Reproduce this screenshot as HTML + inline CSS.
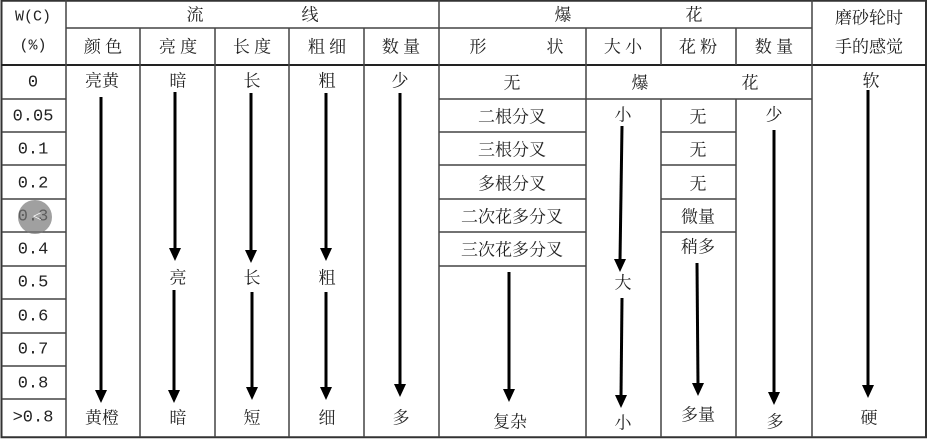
<!DOCTYPE html>
<html><head><meta charset="utf-8"><style>
html,body{margin:0;padding:0;background:#fff;}
svg{display:block;}
text{font-family:"Liberation Serif","Noto Serif CJK SC",serif;font-size:17px;fill:#222;text-anchor:middle;dominant-baseline:central;}
.n{font-family:"Liberation Mono","Liberation Serif",monospace;font-size:17px;}
</style></head><body>
<svg width="927" height="441" viewBox="0 0 927 441" xmlns="http://www.w3.org/2000/svg">
<g stroke="#444" stroke-width="1.5" fill="none">
<rect x="1.5" y="0.75" width="924.5" height="436.5" stroke="#333" stroke-width="2"/>
<line x1="66" y1="28" x2="812" y2="28"/>
<line x1="1" y1="65" x2="926" y2="65" stroke="#222" stroke-width="2"/>
<path d="M2,99H66M2,132H66M2,165H66M2,199H66M2,232H66M2,266H66M2,299H66M2,333H66M2,366H66M2,399H66"/>
<path d="M439,99H812M439,132H586M439,165H586M439,199H586M439,232H586M439,266H586"/>
<path d="M661,132H736M661,165H736M661,199H736M661,232H736"/>
<path d="M66,0V437M439,0V437M812,0V437"/>
<path d="M140,28V437M215,28V437M289,28V437M364,28V437M586,28V437"/>
<path d="M661,28V65M736,28V65M661,99V437M736,99V437"/>
</g>
<g stroke="#000" stroke-width="3">
<line x1="101" y1="97" x2="101" y2="392"/><path d="M95,390H107L101,403Z" fill="#000" stroke="none"/>
<line x1="175" y1="92" x2="175" y2="250"/><path d="M169,248H181L175,261Z" fill="#000" stroke="none"/>
<line x1="174" y1="290" x2="174" y2="392"/><path d="M168,390H180L174,403Z" fill="#000" stroke="none"/>
<line x1="251" y1="93" x2="251" y2="252"/><path d="M245,250H257L251,263Z" fill="#000" stroke="none"/>
<line x1="252" y1="292" x2="252" y2="389"/><path d="M246,387H258L252,400Z" fill="#000" stroke="none"/>
<line x1="326" y1="93" x2="326" y2="250"/><path d="M320,248H332L326,261Z" fill="#000" stroke="none"/>
<line x1="326" y1="292" x2="326" y2="389"/><path d="M320,387H332L326,400Z" fill="#000" stroke="none"/>
<line x1="400" y1="93" x2="400" y2="386"/><path d="M394,384H406L400,397Z" fill="#000" stroke="none"/>
<line x1="509" y1="272" x2="509" y2="391"/><path d="M503,389H515L509,402Z" fill="#000" stroke="none"/>
<line x1="622" y1="126" x2="620" y2="261"/><path d="M614,259H626L620,272Z" fill="#000" stroke="none"/>
<line x1="622" y1="298" x2="621" y2="397"/><path d="M615,395H627L621,408Z" fill="#000" stroke="none"/>
<line x1="697" y1="263" x2="698" y2="385"/><path d="M692,383H704L698,396Z" fill="#000" stroke="none"/>
<line x1="774" y1="130" x2="774" y2="394"/><path d="M768,392H780L774,405Z" fill="#000" stroke="none"/>
<line x1="868" y1="90" x2="868" y2="387"/><path d="M862,385H874L868,398Z" fill="#000" stroke="none"/>
</g>
<text x="33" y="17" class="n" style="font-size:15px">W(C)</text>
<text x="33" y="46" class="n" style="font-size:15px">(%)</text>
<text x="195" y="15">流</text><text x="310" y="15">线</text>
<text x="563" y="15">爆</text><text x="694" y="15">花</text>
<text x="869" y="18">磨砂轮时</text><text x="869" y="47">手的感觉</text>
<text x="103" y="47">颜 色</text><text x="178" y="47">亮 度</text><text x="252" y="47">长 度</text><text x="327" y="47">粗 细</text><text x="401" y="47">数 量</text>
<text x="478" y="47">形</text><text x="555" y="47">状</text>
<text x="623" y="47">大 小</text><text x="698" y="47">花 粉</text><text x="774" y="47">数 量</text>
<g class="n">
<text class="n" x="33" y="83">0</text><text class="n" x="33" y="117">0.05</text><text class="n" x="33" y="150">0.1</text><text class="n" x="33" y="184">0.2</text>
<text class="n" x="33" y="217">0.3</text><text class="n" x="33" y="250">0.4</text><text class="n" x="33" y="283">0.5</text><text class="n" x="33" y="317">0.6</text>
<text class="n" x="33" y="350">0.7</text><text class="n" x="33" y="384">0.8</text><text class="n" x="33" y="418">&gt;0.8</text>
</g>
<circle cx="35" cy="217" r="17" fill="#777" opacity="0.7"/>
<text x="37" y="217" style="fill:#fff;font-size:16px">&lt;</text>
<text x="102" y="81">亮黄</text><text x="178" y="81">暗</text><text x="252" y="81">长</text><text x="327" y="81">粗</text><text x="400" y="81">少</text>
<text x="512" y="83">无</text><text x="640" y="83">爆</text><text x="750" y="83">花</text><text x="871" y="81">软</text>
<text x="512" y="117">二根分叉</text><text x="512" y="150">三根分叉</text><text x="512" y="184">多根分叉</text><text x="512" y="217">二次花多分叉</text><text x="512" y="250">三次花多分叉</text>
<text x="623" y="115">小</text><text x="698" y="117">无</text><text x="698" y="150">无</text><text x="698" y="184">无</text><text x="698" y="217">微量</text><text x="698" y="247">稍多</text><text x="774" y="115">少</text>
<text x="178" y="278">亮</text><text x="252" y="278">长</text><text x="327" y="278">粗</text><text x="623" y="283">大</text>
<text x="102" y="418">黄橙</text><text x="178" y="418">暗</text><text x="252" y="418">短</text><text x="327" y="418">细</text><text x="401" y="418">多</text>
<text x="510" y="422">复杂</text><text x="623" y="423">小</text><text x="698" y="415">多量</text><text x="775" y="422">多</text><text x="869" y="418">硬</text>
</svg>
</body></html>
